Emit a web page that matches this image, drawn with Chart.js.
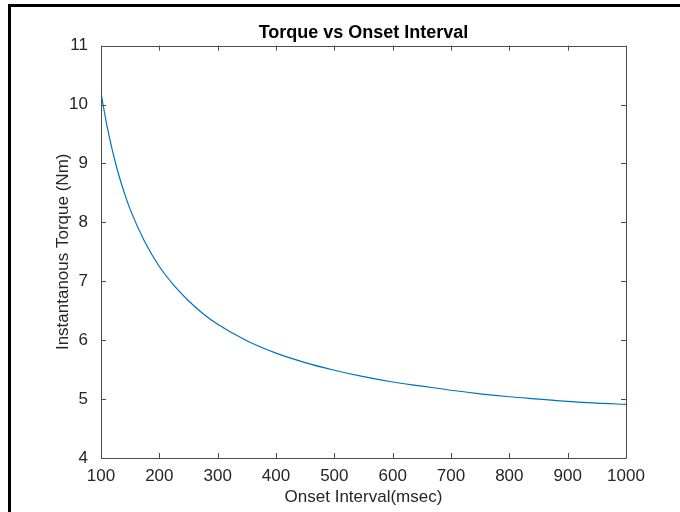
<!DOCTYPE html>
<html>
<head>
<meta charset="utf-8">
<script src="https://cdn.jsdelivr.net/npm/chart.js@4"></script>
<style>
  body { margin: 0; background: #fff; }
  #wrap { position: relative; width: 680px; height: 512px; }
  #frame { position: absolute; left: 8px; top: 4px; right: 0; bottom: 0;
           border-top: 3px solid #000; border-left: 3px solid #000; }
  #torqueChart { position: absolute; left: 0; top: 0; }
</style>
</head>
<body>
<div id="wrap">
  <div id="frame"></div>
  <canvas id="torqueChart" width="680" height="512"></canvas>
</div>
<script>
// Valores
var onsetMsec = [100, 110, 120, 130, 140, 150, 175, 200, 225, 250, 275, 300, 350, 400, 450,
                 500, 550, 600, 650, 700, 750, 800, 850, 900, 950, 1000];
var torqueNm = [10.20, 9.65, 9.20, 8.82, 8.50, 8.22, 7.67, 7.25, 6.93, 6.67, 6.45, 6.27, 5.99, 5.78, 5.62,
                5.49, 5.38, 5.29, 5.22, 5.15, 5.09, 5.04, 5.00, 4.96, 4.93, 4.91];
var xTicks = [100, 200, 300, 400, 500, 600, 700, 800, 900, 1000];
var yTicks = [4, 5, 6, 7, 8, 9, 10, 11];

var axisColor = '#4d4d4d';
var textColor = '#262626';
var fontFamily = '"Liberation Sans", Arial, Helvetica, sans-serif';

var points = onsetMsec.map(function (x, i) {
    return { x: x, y: torqueNm[i] };
});

// Caja y marcas hacia adentro, estilo MATLAB
var boxTicks = {
    id: 'boxTicks',
    afterDatasetsDraw: function (chart) {
        var ctx = chart.ctx;
        var a = chart.chartArea;
        var xs = chart.scales.x, ys = chart.scales.y;
        var len = 5;
        ctx.save();
        ctx.strokeStyle = axisColor;
        ctx.lineWidth = 1;
        ctx.beginPath();
        ctx.rect(Math.round(a.left) + 0.5, Math.round(a.top) + 0.5,
                 Math.round(a.right - a.left), Math.round(a.bottom - a.top));
        xTicks.forEach(function (v) {
            var px = Math.round(xs.getPixelForValue(v)) + 0.5;
            ctx.moveTo(px, a.bottom); ctx.lineTo(px, a.bottom - len);
            ctx.moveTo(px, a.top); ctx.lineTo(px, a.top + len);
        });
        yTicks.forEach(function (v) {
            var py = Math.round(ys.getPixelForValue(v)) + 0.5;
            ctx.moveTo(a.left, py); ctx.lineTo(a.left + len, py);
            ctx.moveTo(a.right, py); ctx.lineTo(a.right - len, py);
        });
        ctx.stroke();
        ctx.restore();
    }
};

var ctx = document.getElementById('torqueChart').getContext('2d');
var torqueChart = new Chart(ctx, {
    type: 'line',
    data: {
        datasets: [{
            label: 'Torque',
            data: points,
            borderColor: '#0072BD',
            borderWidth: 1.2,
            pointRadius: 0,
            fill: false,
            cubicInterpolationMode: 'monotone'
        }]
    },
    options: {
        responsive: false,
        animation: false,
        layout: { padding: { left: 0, right: 54, top: 0, bottom: 0 } },
        plugins: {
            legend: { display: false },
            tooltip: { enabled: false },
            title: {
                display: true,
                text: 'Torque vs Onset Interval',
                fullSize: false,
                color: '#000',
                font: { family: fontFamily, size: 18, weight: 'bold' },
                padding: { top: 22, bottom: 2 }
            }
        },
        scales: {
            x: {
                type: 'linear',
                min: 100,
                max: 1000,
                afterBuildTicks: function (scale) {
                    scale.ticks = xTicks.map(function (v) { return { value: v }; });
                },
                afterFit: function (scale) { scale.height = 54; },
                grid: { display: false, drawTicks: false },
                border: { display: false },
                ticks: {
                    color: textColor,
                    padding: 8,
                    maxRotation: 0,
                    font: { family: fontFamily, size: 17 },
                    callback: function (v) { return String(v); }
                },
                title: {
                    display: true,
                    text: 'Onset Interval(msec)',
                    color: textColor,
                    font: { family: fontFamily, size: 17 },
                    padding: { top: 0, bottom: 4 }
                }
            },
            y: {
                type: 'linear',
                min: 4,
                max: 11,
                afterBuildTicks: function (scale) {
                    scale.ticks = yTicks.map(function (v) { return { value: v }; });
                },
                afterFit: function (scale) { scale.width = 101; },
                grid: { display: false, drawTicks: false },
                border: { display: false },
                ticks: {
                    color: textColor,
                    padding: 13,
                    font: { family: fontFamily, size: 17 },
                    callback: function (v) { return String(v); }
                },
                title: {
                    display: true,
                    text: 'Instantanous Torque (Nm)',
                    color: textColor,
                    font: { family: fontFamily, size: 17 },
                    padding: { top: 53, bottom: 0 }
                }
            }
        }
    },
    plugins: [boxTicks]
});
</script>
</body>
</html>
